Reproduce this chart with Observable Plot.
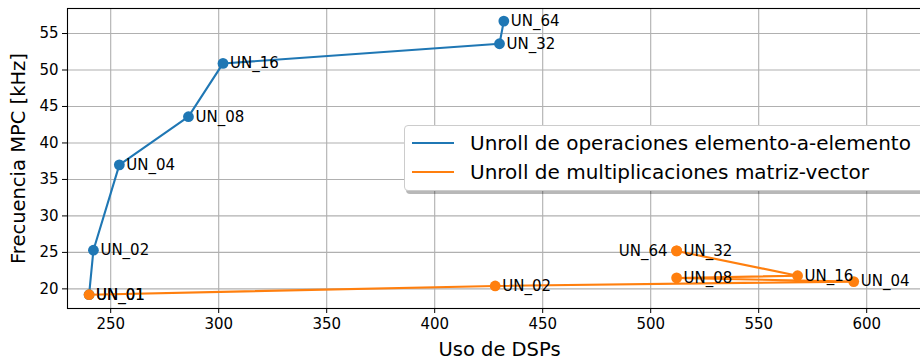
<!DOCTYPE html>
<html>
<head>
<meta charset="utf-8">
<script src="https://cdn.jsdelivr.net/npm/d3@7"></script>
<script src="https://cdn.jsdelivr.net/npm/@observablehq/plot@0.6"></script>
<style>
  html, body { margin: 0; padding: 0; background: #fff; overflow: hidden; }
  #wrap { position: relative; width: 920px; height: 362px; overflow: hidden; font-family: "DejaVu Sans", sans-serif; }
  #legend {
    position: absolute; left: 404px; top: 125px; width: 530px; height: 64px;
    background: #fff; border: 1px solid #cccccc; border-radius: 4px;
    box-shadow: 2px 3px 0 rgba(0,0,0,0.28);
    font-family: "DejaVu Sans", sans-serif; font-size: 20px; color: #000;
  }
  #legend .row { position: absolute; left: 0; height: 28px; display: flex; align-items: center; }
  #legend .swatch { width: 42px; height: 0; border-top: 2.2px solid; margin-left: 7px; margin-right: 16px; }
</style>
</head>
<body>
<div id="wrap"></div>
<script>
// Unroll factors
const labels = ["UN_01", "UN_02", "UN_04", "UN_08", "UN_16", "UN_32", "UN_64"];

// Element-wise operation unroll: DSP usage and MPC frequency (kHz)
const elemDsp = [240, 242, 254, 286, 302, 430, 432];
const elemFreq = [19.2, 25.3, 37.0, 43.6, 50.9, 53.6, 56.7];

// Matrix-vector multiplication unroll
const matDsp = [240, 428, 594, 512, 568, 512, 512];
const matFreq = [19.2, 20.4, 21.0, 21.5, 21.8, 25.2, 25.2];

const seriesNames = ["Unroll de operaciones elemento-a-elemento", "Unroll de multiplicaciones matriz-vector"];
const colors = ["#1f77b4", "#ff7f0e"];

const xTicks = [250, 300, 350, 400, 450, 500, 550, 600];
const yTicks = [20, 25, 30, 35, 40, 45, 50, 55];

const elem = labels.map((l, i) => ({label: l, dsp: elemDsp[i], freq: elemFreq[i]}));
const mat = labels.map((l, i) => ({label: l, dsp: matDsp[i], freq: matFreq[i]}));
// the UN_64 label of the matrix-vector series sits to the left of its point
const matRight = mat.filter(d => d.label !== "UN_64");
const matLeft = mat.filter(d => d.label === "UN_64");

const font = "DejaVu Sans";

const chart = Plot.plot({
  width: 920,
  height: 362,
  marginLeft: 67,
  marginRight: -11,
  marginTop: 8,
  marginBottom: 54,
  style: {fontFamily: font, background: "#fff", overflow: "hidden"},
  x: {domain: [230, 630]},
  y: {domain: [17.31, 58.43]},
  marks: [
    Plot.gridX(xTicks, {stroke: "#b0b0b0", strokeOpacity: 1, strokeWidth: 1.1}),
    Plot.gridY(yTicks, {stroke: "#b0b0b0", strokeOpacity: 1, strokeWidth: 1.1}),
    Plot.frame({stroke: "#000", strokeWidth: 1.1}),
    Plot.line(elem, {x: "dsp", y: "freq", stroke: colors[0], strokeWidth: 2.1}),
    Plot.dot(elem, {x: "dsp", y: "freq", fill: colors[0], r: 5.4}),
    Plot.text(elem, {x: "dsp", y: "freq", text: "label", dx: 7, textAnchor: "start", fontSize: 15, fill: "#000"}),
    Plot.line(mat, {x: "dsp", y: "freq", stroke: colors[1], strokeWidth: 2.1}),
    Plot.dot(mat, {x: "dsp", y: "freq", fill: colors[1], r: 5.4}),
    Plot.text(matRight, {x: "dsp", y: "freq", text: "label", dx: 7, textAnchor: "start", fontSize: 15, fill: "#000"}),
    Plot.text(matLeft, {x: "dsp", y: "freq", text: "label", dx: -9, textAnchor: "end", fontSize: 15, fill: "#000"}),
    Plot.axisX(xTicks, {
      tickSize: 5, tickPadding: 5, fontSize: 15, stroke: "#000",
      label: "Uso de DSPs", labelAnchor: "center", labelOffset: 47, labelArrow: "none"
    }),
    Plot.axisY(yTicks, {
      tickSize: 5, tickPadding: 4, fontSize: 15, stroke: "#000",
      label: "Frecuencia MPC [kHz]", labelAnchor: "center", labelOffset: 56, labelArrow: "none"
    })
  ]
});

// axis title size
chart.querySelectorAll("[aria-label='x-axis label'] text, [aria-label='y-axis label'] text")
  .forEach(t => t.setAttribute("font-size", "19.5"));

const wrap = document.getElementById("wrap");
wrap.appendChild(chart);

const legend = document.createElement("div");
legend.id = "legend";
seriesNames.forEach((name, i) => {
  const row = document.createElement("div");
  row.className = "row";
  row.style.top = (i === 0 ? 3 : 32) + "px";
  const sw = document.createElement("div");
  sw.className = "swatch";
  sw.style.borderTopColor = colors[i];
  const tx = document.createElement("span");
  tx.textContent = name;
  row.appendChild(sw);
  row.appendChild(tx);
  legend.appendChild(row);
});
wrap.appendChild(legend);
</script>
</body>
</html>
